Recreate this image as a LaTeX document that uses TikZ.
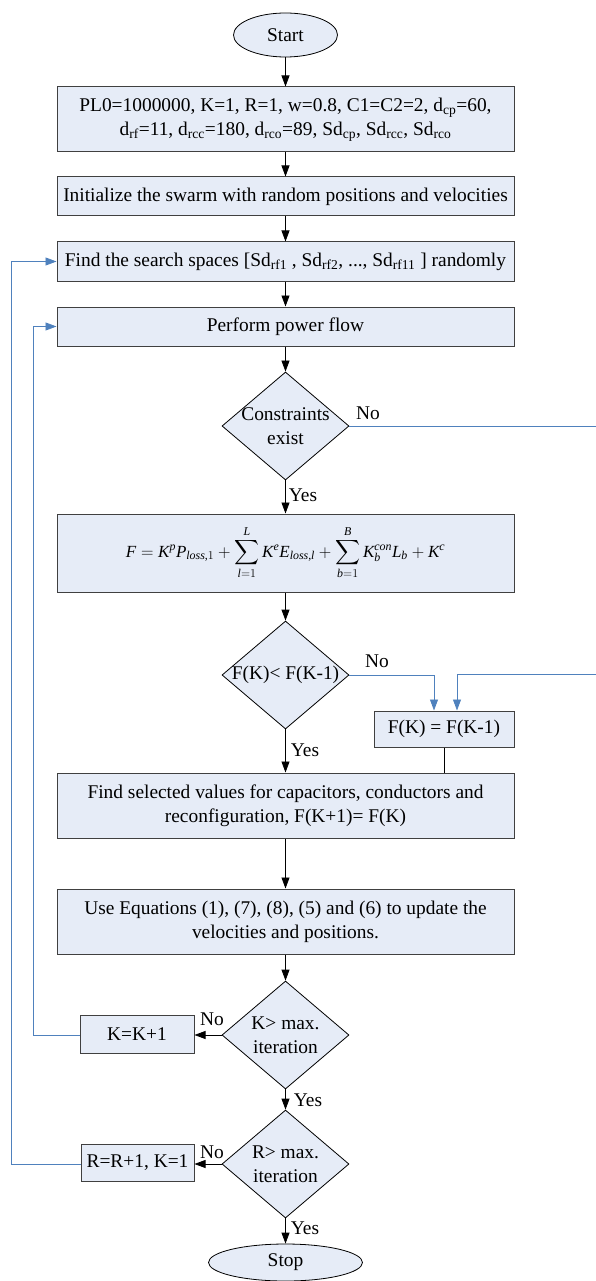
\documentclass[tikz,border=0pt]{standalone}
\usepackage{amsmath}
\usepackage{fontspec}
\setmainfont{Liberation Serif}
\DeclareSymbolFont{letters}{TU}{\rmdefault}{m}{it}
\DeclareSymbolFont{operators}{TU}{\rmdefault}{m}{n}
\mathcode`\,="602C
\usetikzlibrary{shapes.geometric,arrows.meta}
\definecolor{boxfill}{RGB}{230,236,247}
\definecolor{loopblue}{RGB}{79,129,189}

\begin{document}
\begin{tikzpicture}[x=1pt,y=-1pt,
  font=\fontsize{19.4}{24}\selectfont,
  process/.style={draw=black!75, fill=boxfill, line width=1pt, minimum width=457pt, align=center, inner sep=0pt},
  terminal/.style={ellipse, draw=black, fill=boxfill, line width=0.8pt, inner sep=0pt},
  decision/.style={diamond, draw=black, fill=boxfill, line width=0.8pt, minimum width=127pt, minimum height=108pt, inner sep=0pt},
  dtext/.style={align=center, inner sep=0pt},
  note/.style={inner sep=0pt},
  arrow/.style={-{Triangle[length=11pt,width=8pt]}, line width=0.8pt},
  loop/.style={arrow, draw=loopblue},
  plain/.style={line width=0.8pt}]
  % Page size
  \useasboundingbox (0,0) rectangle (596,1281);
  \def\midx{285.5}
  \def\rightx{597}

  % Main column
  \node[terminal, minimum width=104pt, minimum height=44pt] (start) at (\midx,35) {Start};
  \node[process, minimum height=65pt] (init) at (\midx,119.5)
    {PL0=1000000, K=1, R=1, w=0.8, C1=C2=2, d\textsubscript{cp}=60,\\
     d\textsubscript{rf}=11, d\textsubscript{rcc}=180, d\textsubscript{rco}=89, Sd\textsubscript{cp}, Sd\textsubscript{rcc}, Sd\textsubscript{rco}};
  \node[process, minimum height=39pt] (swarm) at (\midx,196.5) {Initialize the swarm with random positions and velocities};
  \node[process, minimum height=39pt] (search) at (\midx,261.5)
    {Find the search spaces [Sd\textsubscript{rf1} , Sd\textsubscript{rf2}, ..., Sd\textsubscript{rf11} ] randomly};
  \node[process, minimum height=39pt] (power) at (\midx,326.5) {Perform power flow};
  \node[decision, label={[dtext]center:Constraints\\exist}] (cons) at (\midx,426) {};
  \node[process, minimum height=78pt, font=\fontsize{17}{20}\selectfont] (fit) at (\midx,553)
    {$\displaystyle F = K^{p} P_{loss,1} + \sum_{l=1}^{L} K^{e} E_{loss,l} + \sum_{b=1}^{B} K_{b}^{con} L_{b} + K^{c}$};
  \node[decision, label={[dtext]center:F(K)< F(K-1)}] (comp) at (\midx,675) {};
  \node[process, minimum width=140pt, minimum height=36pt] (keep) at (444,729) {F(K) = F(K-1)};
  \node[process, minimum height=65pt] (select) at (\midx,805.5)
    {Find selected values for capacitors, conductors and\\reconfiguration, F(K+1)= F(K)};
  \node[process, minimum height=65pt] (update) at (\midx,921.5)
    {Use Equations (1), (7), (8), (5) and (6) to update the\\velocities and positions.};
  \node[decision, label={[dtext]center:K> max.\\iteration}] (kmax) at (\midx,1035) {};
  \node[process, minimum width=114pt, minimum height=38pt] (kinc) at (137,1034) {K=K+1};
  \node[decision, label={[dtext]center:R> max.\\iteration}] (rmax) at (\midx,1164) {};
  \node[process, minimum width=113pt, minimum height=37pt] (rinc) at (137.5,1163) {R=R+1, K=1};
  \node[terminal, minimum width=154pt, minimum height=37pt] (stop) at (\midx,1262.5) {Stop};

  % Yes / No labels
  \node[note] (consno) at (368,413) {No};
  \node[note] (consyes) at (303,495) {Yes};
  \node[note] (compno) at (377,661) {No};
  \node[note] (compyes) at (305,750) {Yes};
  \node[note] (kno) at (212,1019) {No};
  \node[note] (kyes) at (308,1100) {Yes};
  \node[note] (rno) at (212,1152) {No};
  \node[note] (ryes) at (305,1228) {Yes};

  % Straight arrows down the column
  \draw[arrow] (start) -- (init);
  \draw[arrow] (init) -- (swarm);
  \draw[arrow] (swarm) -- (search);
  \draw[arrow] (search) -- (power);
  \draw[arrow] (power) -- (cons);
  \draw[arrow] (cons) -- (fit);
  \draw[arrow] (fit) -- (comp);
  \draw[arrow] (comp) -- (select);
  \draw[arrow] (select) -- (update);
  \draw[arrow] (update) -- (kmax);
  \draw[arrow] (kmax) -- (rmax);
  \draw[arrow] (rmax) -- (stop);
  \draw[arrow] (kmax.west) -- (kmax.west -| kinc.east);
  \draw[arrow] (rmax.west) -- (rmax.west -| rinc.east);
  \draw[plain] (keep.south) -- (keep.south |- select.north);

  % Blue branches and loops
  \coordinate (bend) at (\rightx,674);
  \draw[loop] (cons.east) -- (cons.east -| bend) -- (bend) -| ([xshift=13pt]keep.north);
  \draw[loop] (comp.east) -| ([xshift=-10pt]keep.north);
  \draw[loop] (kmax.west -| kinc.west) -- ++(-46,0) |- (power.west);
  \draw[loop] (rmax.west -| rinc.west) -- ++(-69,0) |- (search.west);
\end{tikzpicture}
\end{document}
